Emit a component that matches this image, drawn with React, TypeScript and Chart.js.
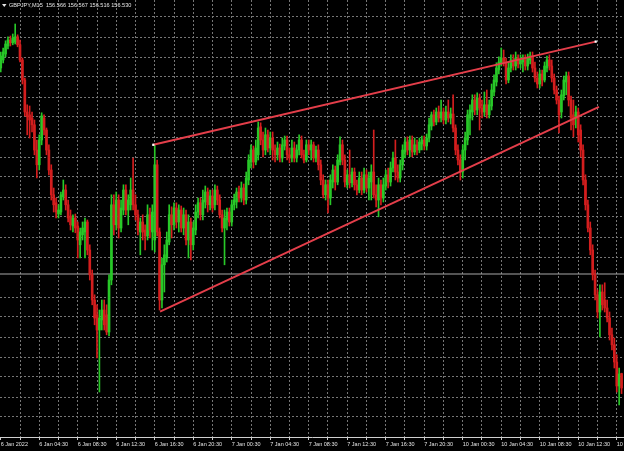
import { useEffect, useRef } from "react";
import { Chart, registerables } from "chart.js";

Chart.register(...registerables);

const symbol = "GBPJPY,M15";

const opens = [
  157.33, 157.35, 157.365, 157.385, 157.40, 157.393, 157.395, 157.408, 157.388, 157.35,
  157.30, 157.22, 157.213, 157.205, 157.188, 157.125, 157.088, 157.15, 157.205, 157.175,
  157.125, 157.075, 157.013, 156.993, 156.965, 156.97, 157.008, 157.025, 156.988, 156.96,
  156.935, 156.955, 156.935, 156.888, 156.913, 156.92, 156.945, 156.875, 156.813, 156.75,
  156.713, 156.675, 156.70, 156.725, 156.713, 156.67, 156.80, 156.988, 156.938, 157.00,
  156.93, 156.975, 157.025, 156.975, 156.988, 157.025, 156.988, 156.963, 156.92, 156.945,
  156.925, 156.91, 156.963, 156.92, 156.90, 157.088, 156.92, 156.75, 156.838, 156.855,
  156.895, 156.963, 156.938, 156.98, 156.945, 156.975, 156.93, 156.963, 156.90, 156.945,
  156.888, 156.925, 156.97, 156.993, 156.963, 156.995, 157.02, 156.988, 157.01, 156.988,
  157.025, 157.00, 156.963, 156.93, 156.95, 156.97, 156.945, 156.988, 156.995, 157.02,
  157.005, 157.03, 157.00, 157.05, 157.095, 157.125, 157.095, 157.113, 157.183, 157.15,
  157.125, 157.163, 157.13, 157.155, 157.125, 157.113, 157.13, 157.105, 157.135, 157.15,
  157.113, 157.105, 157.13, 157.105, 157.125, 157.15, 157.113, 157.10, 157.138, 157.125,
  157.138, 157.105, 157.125, 157.088, 157.05, 157.013, 157.038, 157.005, 157.045, 157.075,
  157.045, 157.095, 157.138, 157.10, 157.038, 157.063, 157.043, 157.07, 157.038, 157.025,
  157.055, 157.025, 157.063, 157.03, 157.045, 157.07, 157.013, 157.00, 157.038, 157.005,
  157.035, 157.063, 157.045, 157.08, 157.105, 157.07, 157.055, 157.088, 157.12, 157.145,
  157.125, 157.15, 157.12, 157.138, 157.125, 157.14, 157.15, 157.135, 157.155, 157.185,
  157.213, 157.195, 157.22, 157.205, 157.22, 157.20, 157.22, 157.205, 157.215, 157.18,
  157.125, 157.10, 157.07, 157.125, 157.15, 157.205, 157.22, 157.25, 157.225, 157.255,
  157.23, 157.22, 157.238, 157.213, 157.235, 157.27, 157.295, 157.325, 157.343, 157.355,
  157.345, 157.30, 157.33, 157.35, 157.335, 157.355, 157.34, 157.345, 157.355, 157.335,
  157.35, 157.36, 157.33, 157.305, 157.29, 157.315, 157.30, 157.33, 157.35, 157.335,
  157.305, 157.275, 157.25, 157.22, 157.26, 157.295, 157.31, 157.25, 157.213, 157.205,
  157.22, 157.175, 157.125, 157.05, 156.988, 156.93, 156.875, 156.813, 156.763, 156.72,
  156.77, 156.75, 156.73, 156.705, 156.663, 156.638, 156.595, 156.535, 156.566,
];

const highs = [
  157.37, 157.38, 157.398, 157.408, 157.41, 157.415, 157.44, 157.413, 157.40, 157.355,
  157.305, 157.238, 157.235, 157.22, 157.20, 157.15, 157.163, 157.218, 157.213, 157.18,
  157.138, 157.088, 157.03, 157.005, 156.988, 157.02, 157.05, 157.038, 157.00, 156.975,
  156.963, 156.965, 156.945, 156.93, 156.945, 156.955, 156.95, 156.888, 156.825, 156.763,
  156.738, 156.725, 156.75, 156.75, 156.738, 156.813, 157.013, 157.013, 157.02, 157.013,
  157.00, 157.038, 157.038, 157.013, 157.055, 157.105, 157.013, 156.975, 156.955, 156.963,
  156.938, 156.988, 156.98, 156.988, 157.138, 157.10, 156.93, 156.855, 156.888, 156.92,
  156.988, 156.983, 156.993, 156.993, 156.988, 156.985, 156.98, 156.975, 156.963, 156.955,
  156.945, 156.988, 157.005, 157.005, 157.025, 157.035, 157.03, 157.025, 157.025, 157.038,
  157.035, 157.013, 156.975, 156.975, 156.98, 156.98, 157.00, 157.015, 157.03, 157.035,
  157.045, 157.04, 157.07, 157.113, 157.138, 157.135, 157.15, 157.195, 157.193, 157.17,
  157.18, 157.175, 157.17, 157.17, 157.138, 157.145, 157.14, 157.155, 157.16, 157.16,
  157.13, 157.15, 157.145, 157.138, 157.163, 157.16, 157.125, 157.15, 157.15, 157.15,
  157.145, 157.135, 157.138, 157.10, 157.063, 157.05, 157.05, 157.063, 157.088, 157.085,
  157.113, 157.158, 157.15, 157.113, 157.075, 157.125, 157.08, 157.08, 157.05, 157.07,
  157.07, 157.08, 157.075, 157.07, 157.088, 157.175, 157.038, 157.055, 157.05, 157.055,
  157.075, 157.08, 157.095, 157.12, 157.15, 157.088, 157.10, 157.138, 157.155, 157.158,
  157.16, 157.16, 157.155, 157.15, 157.155, 157.16, 157.16, 157.165, 157.205, 157.22,
  157.225, 157.23, 157.235, 157.25, 157.23, 157.235, 157.25, 157.23, 157.263, 157.188,
  157.138, 157.113, 157.138, 157.17, 157.225, 157.238, 157.263, 157.263, 157.268, 157.265,
  157.25, 157.27, 157.275, 157.25, 157.29, 157.313, 157.343, 157.358, 157.38, 157.375,
  157.355, 157.345, 157.363, 157.363, 157.37, 157.363, 157.363, 157.363, 157.363, 157.365,
  157.37, 157.37, 157.345, 157.32, 157.325, 157.325, 157.345, 157.36, 157.363, 157.35,
  157.315, 157.285, 157.26, 157.275, 157.31, 157.32, 157.32, 157.26, 157.25, 157.235,
  157.23, 157.188, 157.138, 157.063, 157.00, 156.945, 156.888, 156.825, 156.775, 156.788,
  156.788, 156.793, 156.75, 156.72, 156.68, 156.655, 156.613, 156.58, 156.567,
];

const lows = [
  157.32, 157.343, 157.358, 157.378, 157.385, 157.388, 157.39, 157.383, 157.345, 157.29,
  157.21, 157.163, 157.155, 157.17, 157.113, 157.055, 157.075, 157.138, 157.163, 157.113,
  157.063, 157.00, 156.97, 156.955, 156.955, 156.963, 157.00, 156.975, 156.945, 156.925,
  156.92, 156.918, 156.855, 156.855, 156.90, 156.855, 156.863, 156.80, 156.738, 156.688,
  156.605, 156.52, 156.675, 156.675, 156.663, 156.66, 156.788, 156.913, 156.925, 156.905,
  156.92, 156.963, 156.963, 156.938, 156.975, 156.975, 156.95, 156.913, 156.863, 156.90,
  156.875, 156.90, 156.905, 156.875, 156.87, 156.91, 156.725, 156.73, 156.77, 156.845,
  156.888, 156.905, 156.925, 156.93, 156.92, 156.92, 156.913, 156.888, 156.855, 156.85,
  156.875, 156.913, 156.955, 156.95, 156.95, 156.98, 156.97, 156.975, 156.97, 156.975,
  156.988, 156.955, 156.92, 156.838, 156.925, 156.935, 156.935, 156.975, 156.98, 156.995,
  156.995, 156.988, 156.99, 157.038, 157.08, 157.08, 157.088, 157.10, 157.138, 157.108,
  157.113, 157.12, 157.113, 157.10, 157.095, 157.10, 157.095, 157.095, 157.125, 157.10,
  157.093, 157.095, 157.095, 157.095, 157.113, 157.105, 157.093, 157.095, 157.113, 157.10,
  157.095, 157.095, 157.075, 157.038, 157.005, 157.00, 156.968, 156.988, 157.03, 157.025,
  157.038, 157.088, 157.088, 157.033, 157.03, 157.03, 157.033, 157.025, 157.013, 157.018,
  157.013, 157.018, 157.02, 157.00, 157.00, 157.005, 156.983, 156.958, 156.988, 156.995,
  157.025, 157.03, 157.035, 157.07, 157.05, 157.045, 157.045, 157.075, 157.105, 157.113,
  157.108, 157.108, 157.113, 157.113, 157.118, 157.125, 157.125, 157.125, 157.145, 157.175,
  157.185, 157.188, 157.195, 157.195, 157.19, 157.19, 157.195, 157.19, 157.17, 157.113,
  157.088, 157.05, 157.055, 157.10, 157.138, 157.163, 157.20, 157.213, 157.213, 157.175,
  157.205, 157.21, 157.205, 157.205, 157.225, 157.26, 157.285, 157.315, 157.335, 157.335,
  157.29, 157.293, 157.32, 157.325, 157.325, 157.33, 157.33, 157.32, 157.325, 157.325,
  157.34, 157.32, 157.295, 157.28, 157.28, 157.285, 157.295, 157.32, 157.325, 157.295,
  157.265, 157.24, 157.168, 157.205, 157.25, 157.263, 157.235, 157.175, 157.158, 157.18,
  157.145, 157.108, 157.038, 156.975, 156.92, 156.863, 156.80, 156.75, 156.705, 156.658,
  156.725, 156.72, 156.695, 156.65, 156.625, 156.58, 156.52, 156.488, 156.516,
];

const closes = [
  157.36, 157.37, 157.39, 157.40, 157.393, 157.405, 157.408, 157.388, 157.35, 157.30,
  157.22, 157.208, 157.20, 157.188, 157.125, 157.088, 157.15, 157.21, 157.175, 157.125,
  157.075, 157.013, 156.988, 156.97, 156.975, 157.013, 157.025, 156.988, 156.955, 156.938,
  156.955, 156.93, 156.90, 156.92, 156.93, 156.945, 156.875, 156.813, 156.75, 156.705,
  156.675, 156.705, 156.725, 156.688, 156.67, 156.80, 156.988, 156.938, 157.00, 156.93,
  156.98, 157.025, 156.975, 157.00, 157.025, 156.988, 156.963, 156.925, 156.945, 156.92,
  156.91, 156.963, 156.925, 156.97, 157.088, 156.92, 156.75, 156.838, 156.863, 156.90,
  156.963, 156.938, 156.98, 156.945, 156.975, 156.93, 156.963, 156.90, 156.945, 156.888,
  156.93, 156.97, 156.993, 156.963, 157.00, 157.02, 156.988, 157.01, 156.98, 157.025,
  157.00, 156.963, 156.93, 156.955, 156.97, 156.945, 156.988, 157.00, 157.02, 157.005,
  157.03, 157.00, 157.055, 157.10, 157.125, 157.095, 157.13, 157.18, 157.15, 157.125,
  157.163, 157.13, 157.155, 157.125, 157.113, 157.13, 157.105, 157.138, 157.15, 157.113,
  157.105, 157.13, 157.105, 157.125, 157.15, 157.113, 157.10, 157.138, 157.125, 157.138,
  157.105, 157.125, 157.088, 157.05, 157.013, 157.038, 157.005, 157.05, 157.075, 157.045,
  157.10, 157.138, 157.10, 157.045, 157.063, 157.043, 157.07, 157.038, 157.025, 157.055,
  157.025, 157.063, 157.03, 157.055, 157.07, 157.013, 157.00, 157.038, 157.005, 157.038,
  157.063, 157.045, 157.08, 157.105, 157.07, 157.055, 157.088, 157.125, 157.145, 157.125,
  157.15, 157.12, 157.138, 157.125, 157.145, 157.15, 157.135, 157.155, 157.188, 157.213,
  157.195, 157.22, 157.205, 157.22, 157.20, 157.22, 157.205, 157.215, 157.18, 157.125,
  157.10, 157.07, 157.125, 157.155, 157.213, 157.225, 157.25, 157.225, 157.255, 157.23,
  157.22, 157.238, 157.213, 157.238, 157.275, 157.30, 157.33, 157.345, 157.355, 157.345,
  157.30, 157.33, 157.35, 157.335, 157.355, 157.34, 157.35, 157.355, 157.335, 157.355,
  157.36, 157.33, 157.305, 157.29, 157.315, 157.30, 157.335, 157.35, 157.335, 157.305,
  157.275, 157.25, 157.213, 157.263, 157.30, 157.31, 157.25, 157.205, 157.188, 157.22,
  157.163, 157.125, 157.05, 156.988, 156.93, 156.875, 156.813, 156.763, 156.72, 156.77,
  156.738, 156.73, 156.705, 156.663, 156.638, 156.595, 156.535, 156.565, 156.530,
];

// time axis labels, one every 16 bars (4 hours of M15)
const xTickLabels = [
  "6 Jan 2022", "6 Jan 04:30", "6 Jan 08:30", "6 Jan 12:30", "6 Jan 16:30", "6 Jan 20:30",
  "7 Jan 00:30", "7 Jan 04:30", "7 Jan 08:30", "7 Jan 12:30", "7 Jan 16:30", "7 Jan 20:30",
  "10 Jan 00:30", "10 Jan 04:30", "10 Jan 08:30", "10 Jan 12:30", "10 Jan 16:30",
];
const barsPerLabel = 16;
const barsPerGrid = 8;

// horizontal grid price levels
const gridPrices = [
  157.4575, 157.4075, 157.3575, 157.3075, 157.2575, 157.2075, 157.1575, 157.1075, 157.0575,
  157.0075, 156.9575, 156.9075, 156.8575, 156.7575, 156.7075, 156.6575, 156.6075, 156.5575,
  156.5075, 156.4575,
];

const levelPrice = 156.815;
const upperTrend = [{ x: 63.4, y: 157.138 }, { x: 247.25, y: 157.396 }];
const lowerTrend = [{ x: 66.2, y: 156.721 }, { x: 248.6, y: 157.233 }];

const priceMin = 156.4075;
const priceMax = 157.5;
const idxMin = -0.3117;
const idxMax = 259.013;

const BULL = "rgb(40,200,40)";
const BEAR = "rgb(212,30,30)";
const TREND = "rgb(228,62,74)";
const GRID = "#767676";
const TEXT = "#e4e4e4";

export default function App() {
  const ref = useRef<HTMLCanvasElement | null>(null);

  useEffect(() => {
    const canvas = ref.current;
    if (!canvas) return;
    const idx = opens.map((_, i) => i);
    const colors = idx.map((i) => (closes[i] >= opens[i] ? BULL : BEAR));
    const wicks = idx.map((i) => ({ x: i, y: [lows[i], highs[i]] }));
    const bodies = idx.map((i) => ({ x: i, y: [opens[i], closes[i]] }));
    const xTicks: number[] = [];
    for (let v = 0; v <= idxMax; v += barsPerGrid) xTicks.push(v);

    const bgPlugin = {
      id: "bg",
      beforeDraw(chart: any) {
        const c = chart.ctx;
        c.save();
        c.fillStyle = "#000";
        c.fillRect(0, 0, chart.width, chart.height);
        c.restore();
      },
      afterDraw(chart: any) {
        const c = chart.ctx;
        const n = closes.length - 1;
        c.save();
        c.fillStyle = TEXT;
        c.beginPath();
        c.moveTo(2, 4);
        c.lineTo(6.5, 4);
        c.lineTo(4.25, 7);
        c.closePath();
        c.fill();
        c.font = '5.6px "Liberation Sans", Arial, sans-serif';
        c.textBaseline = "middle";
        c.fillText(
          `${symbol}  ${opens[n].toFixed(3)} ${highs[n].toFixed(3)} ${lows[n].toFixed(3)} ${closes[n].toFixed(3)}`,
          9,
          5.5
        );
        c.restore();
      },
    };

    const chart = new Chart(canvas, {
      type: "bar",
      data: {
        datasets: [
          {
            type: "line",
            data: upperTrend,
            borderColor: TREND,
            borderWidth: 2,
            pointRadius: 1.6,
            pointStyle: "rect",
            pointBackgroundColor: "#ffffff",
            pointBorderWidth: 0,
            order: 0,
          } as any,
          {
            type: "line",
            data: lowerTrend,
            borderColor: TREND,
            borderWidth: 2,
            pointRadius: 0,
            order: 0,
          } as any,
          {
            type: "bar",
            data: bodies,
            backgroundColor: colors,
            borderWidth: 0,
            barThickness: 2,
            minBarLength: 1,
            grouped: false,
            order: 1,
          } as any,
          {
            type: "bar",
            data: wicks,
            backgroundColor: colors,
            borderWidth: 0,
            barThickness: 1,
            grouped: false,
            order: 2,
          } as any,
          {
            type: "line",
            data: [
              { x: idxMin - 1, y: levelPrice },
              { x: idxMax + 1, y: levelPrice },
            ],
            borderColor: "#a8a8a8",
            borderWidth: 1,
            pointRadius: 0,
            order: 3,
          } as any,
        ],
      },
      options: {
        animation: false,
        responsive: false,
        devicePixelRatio: 1,
        events: [],
        layout: { padding: 0, autoPadding: false } as any,
        plugins: { legend: { display: false }, tooltip: { enabled: false }, title: { display: false } },
        scales: {
          x: {
            type: "linear",
            min: idxMin,
            max: idxMax,
            offset: false,
            position: "bottom",
            afterBuildTicks: (scale: any) => {
              scale.ticks = xTicks.map((v) => ({ value: v }));
            },
            afterFit: (scale: any) => {
              scale.height = 14;
              scale.paddingLeft = 0;
              scale.paddingRight = 0;
              scale.paddingTop = 0;
              scale.paddingBottom = 0;
            },
            grid: {
              offset: false,
              color: (c: any) => (c.index === 0 ? "rgba(0,0,0,0)" : GRID),
              lineWidth: 1,
              drawTicks: true,
              tickLength: 3,
              tickColor: "#cfcfcf",
            },
            border: { display: true, color: "#d0d0d0", width: 1, dash: [2, 2] },
            ticks: {
              autoSkip: false,
              maxRotation: 0,
              minRotation: 0,
              align: "start",
              padding: 1,
              color: TEXT,
              font: { family: '"Liberation Sans", Arial, sans-serif', size: 5.5 },
              callback: (value: any) => {
                const v = Number(value);
                if (v % barsPerLabel !== 0) return "";
                return xTickLabels[v / barsPerLabel] ?? "";
              },
            },
          } as any,
          y: {
            type: "linear",
            min: priceMin,
            max: priceMax,
            position: "right",
            beginAtZero: false,
            afterBuildTicks: (scale: any) => {
              scale.ticks = gridPrices.map((v) => ({ value: v }));
            },
            afterFit: (scale: any) => {
              scale.width = 0;
              scale.paddingTop = 0;
              scale.paddingBottom = 0;
            },
            grid: { color: GRID, lineWidth: 1, drawTicks: false },
            border: { display: false, dash: [2, 2] },
            ticks: { display: false },
          } as any,
        },
      },
      plugins: [bgPlugin],
    });
    return () => chart.destroy();
  }, []);

  return (
    <div style={{ position: "fixed", left: 0, top: 0, width: 624, height: 451, background: "#000" }}>
      <canvas ref={ref} width={624} height={451} style={{ display: "block", width: 624, height: 451 }} />
    </div>
  );
}
